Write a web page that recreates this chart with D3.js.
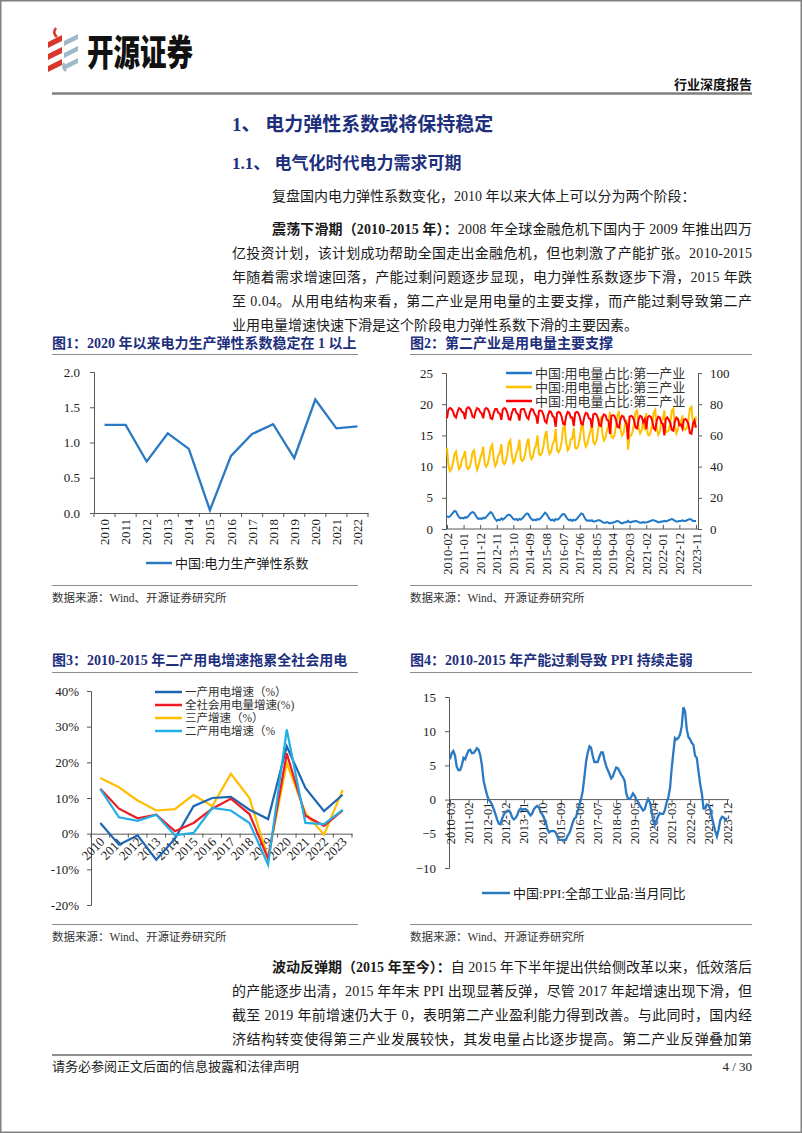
<!DOCTYPE html>
<html><head><meta charset="utf-8">
<script src="https://cdn.jsdelivr.net/npm/d3@7"></script>
<style>
body{margin:0;background:#fff}
svg{display:block}
text{font-family:"Liberation Serif","Noto Sans CJK SC",serif}
</style></head><body>
<svg id="page" width="802" height="1133"></svg>
<script>
// ---------------- DATA ----------------
// Chart 1
const c1Years = ["2010","2011","2012","2013","2014","2015","2016","2017","2018","2019","2020","2021","2022"];
const c1Values = [1.25,1.25,0.73,1.13,0.91,0.04,0.81,1.12,1.26,0.78,1.61,1.20,1.23];
const c1Ticks = [0,0.5,1.0,1.5,2.0];
const c1Legend = "中国:电力生产弹性系数";

// Chart 2 (monthly 2010-02 .. 2023-11)
const c2Start = "2010-02";
const c2TickLabels = ["2010-02","2011-01","2011-12","2012-11","2013-10","2014-09","2015-08","2016-07","2017-06","2018-05","2019-04","2020-03","2021-02","2022-01","2022-12","2023-11"];
const c2LeftTicks = [0,5,10,15,20,25];
const c2RightTicks = [0,20,40,60,80,100];
const c2Names = ["中国:用电量占比:第一产业","中国:用电量占比:第三产业","中国:用电量占比:第二产业"];
const c2Primary = [
 [2.1,1.9,2.0,2.3,2.6,2.9,2.8,2.3,1.9,1.7,1.8],
 [1.7,1.9,1.8,2.0,2.3,2.6,2.7,2.6,2.2,1.8,1.6,1.7],
 [1.6,1.8,1.7,1.9,2.2,2.5,2.7,2.5,2.0,1.6,1.3,1.5],
 [1.4,1.7,1.5,1.7,1.9,2.2,2.3,2.2,1.9,1.6,1.5,1.6],
 [1.4,1.6,1.5,1.7,2.0,2.3,2.5,2.4,1.9,1.6,1.4,1.5],
 [1.4,1.6,1.5,1.7,2.0,2.3,2.6,2.4,2.0,1.6,1.4,1.5],
 [1.3,1.6,1.5,1.6,1.9,2.2,2.4,2.3,1.9,1.6,1.4,1.5],
 [1.3,1.5,1.4,1.6,1.9,2.2,2.5,2.4,1.9,1.5,1.3,1.4],
 [1.3,1.4,1.2,1.2,1.3,1.4,1.4,1.3,1.1,1.0,1.0,1.1],
 [1.0,0.9,1.0,1.0,1.1,1.2,1.3,1.2,1.0,0.9,1.0,1.1],
 [1.1,1.3,1.1,1.1,1.2,1.2,1.3,1.2,1.1,1.0,1.0,1.1],
 [1.0,1.1,1.1,1.2,1.3,1.4,1.4,1.3,1.2,1.1,1.1,1.2],
 [1.2,1.3,1.2,1.3,1.4,1.5,1.6,1.5,1.3,1.2,1.2,1.3],
 [1.3,1.4,1.3,1.3,1.4,1.5,1.6,1.5,1.3,1.3,1.3]
];
const c2Tertiary = [
 [13.0,10.2,9.3,9.6,10.5,12.0,12.4,10.8,9.6,10.0,11.2],
 [11.6,12.5,10.0,9.6,9.9,10.8,12.3,12.6,10.7,9.5,10.2,11.3],
 [12.0,13.2,10.5,10.0,10.4,11.5,13.0,13.5,11.2,10.1,10.6,11.8],
 [12.2,13.6,10.8,10.4,10.8,12.0,13.8,14.2,11.8,10.6,11.0,12.2],
 [12.8,14.3,11.2,10.9,11.2,12.2,13.7,14.5,12.0,11.2,11.6,12.8],
 [13.4,15.0,12.0,11.8,12.2,13.3,15.0,15.7,13.0,12.0,12.4,13.6],
 [14.0,16.0,12.6,12.3,12.8,14.0,16.2,16.6,13.8,12.6,13.0,14.4],
 [14.5,16.2,13.0,12.9,13.3,14.5,16.4,16.8,14.2,13.2,13.6,14.8],
 [15.6,17.0,14.0,13.6,14.1,15.5,17.4,17.8,15.2,14.2,14.6,15.8],
 [16.5,18.8,14.8,14.6,15.0,16.4,18.2,18.9,16.0,15.0,15.4,16.8],
 [17.5,12.7,15.0,15.0,15.6,17.0,18.8,19.0,16.2,15.3,15.8,17.6],
 [15.8,18.6,15.2,15.0,15.5,16.8,18.7,19.1,16.1,15.1,15.6,17.2],
 [17.6,19.0,15.5,15.6,15.8,17.0,19.0,19.3,16.4,15.3,15.9,17.5],
 [16.8,18.2,16.0,15.9,16.2,17.5,19.3,19.6,17.0,16.3,18.0]
];
const c2Secondary = [
 [71.0,76.5,77.5,77.0,75.5,72.5,71.5,75.0,77.5,77.0,75.0],
 [74.5,70.5,77.0,78.0,77.5,75.5,72.0,71.5,75.5,77.5,77.0,75.0],
 [74.0,71.0,76.5,77.5,77.0,75.0,71.0,70.5,74.5,77.0,77.0,74.5],
 [74.0,70.0,76.5,77.5,77.0,74.5,70.5,70.0,74.5,77.0,77.0,74.5],
 [73.5,69.5,76.5,77.0,77.0,74.5,71.5,70.5,75.0,77.0,76.5,74.0],
 [72.5,67.5,75.5,76.0,75.5,73.0,69.0,68.0,73.0,75.5,75.0,72.5],
 [71.5,65.5,74.5,75.0,74.5,72.0,67.5,67.0,72.5,75.0,74.5,71.5],
 [71.5,66.0,74.5,75.0,74.5,72.0,67.5,67.0,72.0,74.5,74.0,71.0],
 [70.5,65.0,73.5,74.0,73.5,71.0,66.5,66.0,71.5,73.5,73.0,70.0],
 [69.5,61.0,72.5,73.0,72.5,70.0,65.5,65.0,70.5,72.5,72.0,69.0],
 [67.5,57.5,72.0,72.5,72.0,69.5,65.0,64.5,70.5,72.5,72.0,68.5],
 [70.5,64.0,71.5,72.5,72.0,69.5,64.5,63.5,69.5,72.0,71.5,68.0],
 [67.5,60.0,70.5,71.5,70.0,68.0,63.5,63.0,69.0,71.5,70.5,66.5],
 [67.0,64.5,70.0,70.5,69.5,67.5,61.5,61.0,67.5,69.5,65.0]
];

// Chart 3
const c3Years = ["2010","2011","2012","2013","2014","2015","2016","2017","2018","2019","2020","2021","2022","2023"];
const c3Primary  = [3.0,-3.1,-0.5,-7.3,-1.4,7.7,10.0,10.3,6.7,4.1,24.5,12.8,6.3,10.9];
const c3Total    = [12.6,7.0,4.3,5.3,0.7,3.0,7.0,9.8,5.5,-7.0,22.5,5.0,2.2,6.5];
const c3Tertiary = [15.6,13.0,9.3,6.5,6.9,10.9,7.7,16.8,10.0,-6.8,19.8,5.8,-0.3,12.3];
const c3Second   = [12.5,4.6,3.6,5.3,-0.5,0.2,7.2,6.5,3.0,-8.7,29.2,3.0,2.7,6.7];
const c3Names = ["一产用电增速（%）","全社会用电量增速(%)","三产增速（%）","二产用电增速（%"];
const c3Ticks = [-20,-10,0,10,20,30,40];

// Chart 4 (monthly 2010-03 .. 2023-12)
const c4Start = "2010-03";
const c4TickLabels = ["2010-03","2011-02","2012-01","2012-12","2013-11","2014-10","2015-09","2016-08","2017-07","2018-06","2019-05","2020-04","2021-03","2022-02","2023-01","2023-12"];
const c4Ticks = [-10,-5,0,5,10,15];
const c4Name = "中国:PPI:全部工业品:当月同比";
const c4PPI = [
 [5.9,6.8,7.1,6.4,4.8,4.3,4.3,5.0,6.1,5.9],
 [6.6,7.2,7.3,6.8,6.8,7.1,7.5,7.3,6.5,5.0,2.7,1.7],
 [0.7,0.0,-0.3,-0.7,-1.4,-2.1,-2.9,-3.5,-3.6,-2.8,-2.2,-1.9],
 [-1.6,-1.6,-1.9,-2.6,-2.9,-2.7,-2.3,-1.6,-1.3,-1.5,-1.4,-1.4],
 [-1.6,-2.0,-2.3,-2.0,-1.4,-1.1,-0.9,-1.2,-1.8,-2.2,-2.7,-3.3],
 [-4.3,-4.8,-4.6,-4.6,-4.6,-4.8,-5.4,-5.9,-5.9,-5.9,-5.9,-5.9],
 [-5.3,-4.9,-4.3,-3.4,-2.8,-2.6,-1.7,-0.8,0.1,1.2,3.3,5.5],
 [6.9,7.8,7.6,6.4,5.5,5.5,5.5,6.3,6.9,6.9,5.8,4.9],
 [4.3,3.7,3.1,3.4,4.1,4.7,4.6,4.1,3.6,3.3,2.7,0.9],
 [0.1,0.1,0.4,0.9,0.6,0.0,-0.3,-0.8,-1.2,-1.6,-1.4,-0.5],
 [0.1,-0.4,-1.5,-3.1,-3.7,-3.0,-2.4,-2.0,-2.1,-2.1,-1.5,-0.4],
 [0.3,1.7,4.4,6.8,9.0,8.8,9.0,9.5,10.7,13.5,12.9,10.3],
 [9.1,8.8,8.3,8.0,6.4,6.1,4.2,2.3,0.9,-1.3,-1.3,-0.7],
 [-0.8,-1.4,-2.5,-3.6,-4.6,-5.4,-4.4,-3.0,-2.5,-2.6,-3.0,-2.7]
];

// ---------------- DRAW ----------------
const svg = d3.select("#page");
const NAVY = "#1e2f7e";
const AX = "#595959";
svg.append("rect").attr("x",0.75).attr("y",0.75).attr("width",800.5).attr("height",1131.5)
  .attr("fill","#fff").attr("stroke","#808080").attr("stroke-width",1.5);

// header logo
const logo = svg.append("g");
const red = "#d8382c", grey = "#9db8c8";
[[0,0],[0,12],[0,24]].forEach(([dx,dy])=>{
  logo.append("path").attr("d",`M${48+dx},${42+dy} L${62+dx},${35+dy} L${62+dx},${41+dy} L${48+dx},${48+dy} Z`).attr("fill",red);
  logo.append("path").attr("d",`M${64+dx},${41+dy} L${78+dx},${34+dy} L${78+dx},${39+dy} L${64+dx},${46+dy} Z`).attr("fill",grey);
});
logo.append("path").attr("d","M56,28 Q52,33 57,37").attr("fill","none").attr("stroke",red).attr("stroke-width",2.5);
logo.append("path").attr("d","M64,63 Q62,68 66,71").attr("fill","none").attr("stroke",grey).attr("stroke-width",2.5);
svg.append("text").attr("x",87).attr("y",66).attr("font-family","Noto Sans CJK SC")
  .attr("font-weight",900).attr("font-size",36).attr("textLength",106).attr("lengthAdjust","spacingAndGlyphs")
  .attr("fill","#111").text("开源证券");
svg.append("text").attr("x",752).attr("y",89).attr("text-anchor","end").attr("font-size",13)
  .attr("font-weight","bold").attr("fill","#111").text("行业深度报告");
svg.append("line").attr("x1",52).attr("x2",752).attr("y1",93.5).attr("y2",93.5).attr("stroke","#7f7f7f").attr("stroke-width",2.5);

// headings
svg.append("text").attr("x",232).attr("y",131).attr("font-size",19).attr("font-weight","bold").attr("fill",NAVY).text("1、 电力弹性系数或将保持稳定");
svg.append("text").attr("x",232).attr("y",169).attr("font-size",17).attr("font-weight","bold").attr("fill",NAVY).text("1.1、 电气化时代电力需求可期");

function line(x,y,x2,parts,justify){
  const t = svg.append("text").attr("x",x).attr("y",y).attr("font-size",14).attr("fill","#1a1a1a");
  parts.forEach(p=>t.append("tspan").attr("font-weight",p.b?"bold":null).text(p.t));
  if(justify){
    const w = t.node().getComputedTextLength();
    const n = parts.map(p=>p.t).join("").length;
    t.attr("letter-spacing",(x2-x-w)/(n-1));
  }
}
line(272,201,752,[{t:"复盘国内电力弹性系数变化，2010 年以来大体上可以分为两个阶段："}],false);
line(272,234,752,[{t:"震荡下滑期（2010-2015 年）：",b:1},{t:"2008 年全球金融危机下国内于 2009 年推出四万"}],true);
line(232,258,752,[{t:"亿投资计划，该计划成功帮助全国走出金融危机，但也刺激了产能扩张。2010-2015"}],true);
line(232,282,752,[{t:"年随着需求增速回落，产能过剩问题逐步显现，电力弹性系数逐步下滑，2015 年跌"}],true);
line(232,306,752,[{t:"至 0.04。从用电结构来看，第二产业是用电量的主要支撑，而产能过剩导致第二产"}],true);
line(232,330,752,[{t:"业用电量增速快速下滑是这个阶段电力弹性系数下滑的主要因素。"}],false);

line(272,972,752,[{t:"波动反弹期（2015 年至今）：",b:1},{t:"自 2015 年下半年提出供给侧改革以来，低效落后"}],true);
line(232,996,752,[{t:"的产能逐步出清，2015 年年末 PPI 出现显著反弹，尽管 2017 年起增速出现下滑，但"}],true);
line(232,1020,752,[{t:"截至 2019 年前增速仍大于 0，表明第二产业盈利能力得到改善。与此同时，国内经"}],true);
line(232,1044,752,[{t:"济结构转变使得第三产业发展较快，其发电量占比逐步提高。第二产业反弹叠加第"}],true);

// footer
svg.append("line").attr("x1",52).attr("x2",752).attr("y1",1055).attr("y2",1055).attr("stroke","#222").attr("stroke-width",1.2);
svg.append("text").attr("x",52).attr("y",1071).attr("font-size",13).attr("fill","#222").text("请务必参阅正文后面的信息披露和法律声明");
svg.append("text").attr("x",752).attr("y",1071).attr("font-size",13).attr("text-anchor","end").attr("fill","#222").text("4 / 30");

// chart frame helper
function frame(x1,x2,titleY,title,ruleY,srcRuleY){
  svg.append("text").attr("x",x1).attr("y",titleY).attr("font-size",14).attr("font-weight","bold").attr("fill",NAVY).text(title);
  svg.append("line").attr("x1",x1).attr("x2",x2).attr("y1",ruleY).attr("y2",ruleY).attr("stroke","#8c8c8c").attr("stroke-width",1);
  svg.append("line").attr("x1",x1).attr("x2",x2).attr("y1",srcRuleY).attr("y2",srcRuleY).attr("stroke","#8c8c8c").attr("stroke-width",1);
  svg.append("text").attr("x",x1).attr("y",srcRuleY+16).attr("font-size",11.5).attr("fill","#333").text("数据来源：Wind、开源证券研究所");
}
function styleAxis(g){
  g.selectAll(".domain").attr("stroke",AX);
  g.selectAll(".tick line").attr("stroke",AX);
  g.selectAll("text").attr("font-family",'"Liberation Serif","Noto Sans CJK SC",serif').attr("font-size",13).attr("fill","#1a1a1a");
}

// ---- Chart 1 ----
frame(52,358,348,"图1：2020 年以来电力生产弹性系数稳定在 1 以上",354.5,585.5);
{
  const x = d3.scaleBand().domain(c1Years).range([94,368]);
  const y = d3.scaleLinear().domain([0,2]).range([513,372]);
  const gy = svg.append("g").attr("transform","translate(94,0)")
    .call(d3.axisLeft(y).tickValues(c1Ticks).tickFormat(d3.format(".1f")).tickSize(4).tickPadding(10));
  styleAxis(gy);
  const gx = svg.append("g").attr("transform","translate(0,513)")
    .call(d3.axisBottom(x).tickSize(0).tickFormat(""));
  styleAxis(gx);
  const bounds = c1Years.map(d=>x(d)).concat([x.range()[1]]);
  svg.append("g").selectAll("line").data(bounds).join("line")
    .attr("x1",d=>d).attr("x2",d=>d).attr("y1",513).attr("y2",517).attr("stroke",AX);
  svg.append("g").selectAll("text").data(c1Years).join("text")
    .attr("transform",d=>`translate(${x(d)+x.bandwidth()/2+4.5},519) rotate(-90)`)
    .attr("text-anchor","end").attr("font-size",13).attr("fill","#1a1a1a").text(d=>d);
  const ln = d3.line().x((d,i)=>x(c1Years[i])+x.bandwidth()/2).y(d=>y(d));
  svg.append("path").datum(c1Values).attr("d",ln).attr("fill","none").attr("stroke","#2a79c2").attr("stroke-width",2.3);
  svg.append("line").attr("x1",146).attr("x2",172).attr("y1",563).attr("y2",563).attr("stroke","#2a79c2").attr("stroke-width",2.5);
  svg.append("text").attr("x",175).attr("y",568).attr("font-size",13).attr("fill","#1a1a1a").text(c1Legend);
}

// ---- Chart 2 ----
frame(410,752,348,"图2：第二产业是用电量主要支撑",354.5,585.5);
{
  const parse = d3.timeParse("%Y-%m");
  const t0 = parse(c2Start);
  const prim = c2Primary.flat(), ter = c2Tertiary.flat(), sec = c2Secondary.flat();
  const dates = prim.map((d,i)=>d3.timeMonth.offset(t0,i));
  const x = d3.scaleTime().domain([dates[0],dates[dates.length-1]]).range([447,696]);
  const yl = d3.scaleLinear().domain([0,25]).range([529,373]);
  const yr = d3.scaleLinear().domain([0,100]).range([529,373]);
  const gl = svg.append("g").attr("transform","translate(446,0)")
    .call(d3.axisLeft(yl).tickValues(c2LeftTicks).tickSize(4).tickPadding(9));
  styleAxis(gl);
  const gr = svg.append("g").attr("transform","translate(698,0)")
    .call(d3.axisRight(yr).tickValues(c2RightTicks).tickSize(4).tickPadding(8));
  styleAxis(gr);
  gr.selectAll("text").attr("font-family","Liberation Sans, Arial, sans-serif").attr("font-size",13);
  const gx = svg.append("g").attr("transform","translate(0,529)")
    .call(d3.axisBottom(x).tickValues(c2TickLabels.map(parse)).tickSize(-4).tickFormat(""));
  styleAxis(gx);
  gx.select(".domain").attr("d","M446,0H698");
  svg.append("g").selectAll("text").data(c2TickLabels).join("text")
    .attr("transform",d=>`translate(${x(parse(d))+4.5},533) rotate(-90)`)
    .attr("text-anchor","end").attr("font-size",12.5).attr("fill","#1a1a1a").text(d=>d);
  const lnL = d3.line().x((d,i)=>x(dates[i])).y(d=>yl(d));
  const lnR = d3.line().x((d,i)=>x(dates[i])).y(d=>yr(d));
  svg.append("path").datum(prim).attr("d",lnL).attr("fill","none").attr("stroke","#1f78c8").attr("stroke-width",2);
  svg.append("path").datum(ter).attr("d",lnL).attr("fill","none").attr("stroke","#ffc000").attr("stroke-width",2);
  svg.append("path").datum(sec).attr("d",lnR).attr("fill","none").attr("stroke","#ff0000").attr("stroke-width",2);
  const cols = ["#1f78c8","#ffc000","#ff0000"];
  c2Names.forEach((n,i)=>{
    const yy = 373+i*14;
    svg.append("line").attr("x1",506).attr("x2",532).attr("y1",yy).attr("y2",yy).attr("stroke",cols[i]).attr("stroke-width",2.5);
    svg.append("text").attr("x",535).attr("y",yy+4.5).attr("font-size",13).attr("fill","#333").text(n);
  });
}

// ---- Chart 3 ----
frame(52,358,665,"图3：2010-2015 年二产用电增速拖累全社会用电",672.5,924.5);
{
  const x = d3.scaleBand().domain(c3Years).range([91,352]);
  const y = d3.scaleLinear().domain([-20,40]).range([905,691]);
  const gy = svg.append("g").attr("transform","translate(91,0)")
    .call(d3.axisLeft(y).tickValues(c3Ticks).tickSize(4).tickPadding(8).tickFormat(d=>d+"%"));
  styleAxis(gy);
  const gx = svg.append("g").attr("transform",`translate(0,${y(0)})`)
    .call(d3.axisBottom(x).tickSize(0).tickFormat(""));
  styleAxis(gx);
  const bounds = c3Years.map(d=>x(d)).concat([x.range()[1]]);
  svg.append("g").selectAll("line").data(bounds).join("line")
    .attr("x1",d=>d).attr("x2",d=>d).attr("y1",y(0)).attr("y2",y(0)+4).attr("stroke",AX);
  svg.append("g").selectAll("text").data(c3Years).join("text")
    .attr("transform",d=>`translate(${x(d)+x.bandwidth()/2+5},${y(0)+9}) rotate(-45)`)
    .attr("text-anchor","end").attr("font-size",13).attr("fill","#1a1a1a").text(d=>d);
  const series = [c3Primary,c3Total,c3Tertiary,c3Second];
  const cols = ["#1f66b2","#ee1c25","#ffbf00","#22aee6"];
  const ln = d3.line().x((d,i)=>x(c3Years[i])+x.bandwidth()/2).y(d=>y(d));
  c3Names.forEach((n,i)=>{
    const yy = 692+i*13;
    svg.append("line").attr("x1",155).attr("x2",182).attr("y1",yy).attr("y2",yy).attr("stroke",cols[i]).attr("stroke-width",2.5);
    svg.append("text").attr("x",185).attr("y",yy+4).attr("font-size",11.5).attr("fill","#333").text(n);
  });
  [2,0,1,3].forEach(i=>{
    svg.append("path").datum(series[i]).attr("d",ln).attr("fill","none").attr("stroke",cols[i]).attr("stroke-width",2.2);
  });
}

// ---- Chart 4 ----
frame(410,752,665,"图4：2010-2015 年产能过剩导致 PPI 持续走弱",672.5,924.5);
{
  const parse = d3.timeParse("%Y-%m");
  const t0 = parse(c4Start);
  const ppi = c4PPI.flat();
  const dates = ppi.map((d,i)=>d3.timeMonth.offset(t0,i));
  const x = d3.scaleTime().domain([dates[0],dates[dates.length-1]]).range([450,727]);
  const y = d3.scaleLinear().domain([-10,15]).range([868,697]);
  const gy = svg.append("g").attr("transform","translate(449,0)")
    .call(d3.axisLeft(y).tickValues(c4Ticks).tickSize(4).tickPadding(9));
  styleAxis(gy);
  const gx = svg.append("g").attr("transform",`translate(0,${y(0)})`)
    .call(d3.axisBottom(x).tickValues(c4TickLabels.map(parse)).tickSize(4).tickFormat(""));
  styleAxis(gx);
  gx.select(".domain").attr("d","M449,0H729");
  svg.append("g").selectAll("text").data(c4TickLabels).join("text")
    .attr("transform",d=>`translate(${x(parse(d))+4.5},${y(0)+3}) rotate(-90)`)
    .attr("text-anchor","end").attr("font-size",12.5).attr("fill","#1a1a1a").text(d=>d);
  const ln = d3.line().x((d,i)=>x(dates[i])).y(d=>y(d));
  svg.append("path").datum(ppi).attr("d",ln).attr("fill","none").attr("stroke","#2a79c2").attr("stroke-width",2.3);
  svg.append("line").attr("x1",482).attr("x2",510).attr("y1",893).attr("y2",893).attr("stroke","#2a79c2").attr("stroke-width",2.5);
  svg.append("text").attr("x",513).attr("y",898).attr("font-size",13).attr("fill","#1a1a1a").text(c4Name);
}
</script>
</body></html>
